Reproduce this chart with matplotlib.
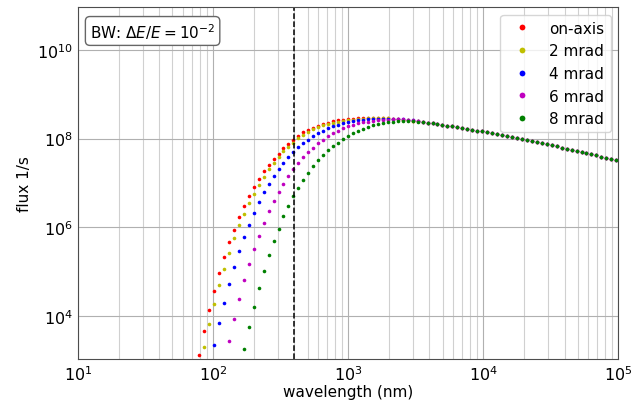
import numpy as np
import matplotlib
matplotlib.use("Agg")
import matplotlib.pyplot as plt
from matplotlib.ticker import FixedLocator, NullLocator, LogLocator

plt.rcParams['font.size'] = 11

# wavelength grid (log10 of nm)
log_wl = [1.896, 1.933, 1.970, 2.007, 2.043, 2.080, 2.117, 2.154, 2.190, 2.227,
          2.264, 2.301, 2.338, 2.374, 2.411, 2.448, 2.485, 2.521, 2.558, 2.595,
          2.632, 2.668, 2.705, 2.742, 2.779, 2.816, 2.852, 2.889, 2.926, 2.963,
          2.999, 3.036, 3.073, 3.110, 3.146, 3.183, 3.220, 3.257, 3.294, 3.330,
          3.367, 3.404, 3.441, 3.477, 3.514, 3.551, 3.588, 3.625, 3.661, 3.698,
          3.735, 3.772, 3.808, 3.845, 3.882, 3.919, 3.955, 3.992, 4.029, 4.066,
          4.103, 4.139, 4.176, 4.213, 4.250, 4.286, 4.323, 4.360, 4.397, 4.433,
          4.470, 4.507, 4.544, 4.581, 4.617, 4.654, 4.691, 4.728, 4.764, 4.801,
          4.838, 4.875, 4.911, 4.948, 4.985]

# log10 flux, long-wavelength part where all angles overlap (grid index 45..84)
tail = [8.376, 8.361, 8.346, 8.330, 8.316, 8.296, 8.278, 8.261, 8.242, 8.224,
        8.204, 8.183, 8.163, 8.143, 8.120, 8.100, 8.077, 8.057, 8.034, 8.011,
        7.989, 7.966, 7.943, 7.919, 7.896, 7.871, 7.848, 7.824, 7.799, 7.774,
        7.749, 7.724, 7.699, 7.674, 7.647, 7.622, 7.595, 7.568, 7.541, 7.514]

# short-wavelength part of each curve (log10 flux), with first visible grid index
on_axis = [3.13, 3.66, 4.14, 4.56, 4.97, 5.33, 5.66, 5.95, 6.23, 6.47,
           6.71, 6.91, 7.10, 7.26, 7.40, 7.54, 7.66, 7.78, 7.88, 7.97,
           8.06, 8.14, 8.19, 8.245, 8.29, 8.33, 8.36, 8.39, 8.41, 8.43,
           8.44, 8.45, 8.46, 8.47, 8.47, 8.47, 8.47, 8.47, 8.46, 8.45,
           8.44, 8.43, 8.41, 8.40, 8.39]
mrad2 = [3.29, 3.81, 4.27, 4.69, 5.07, 5.42, 5.75, 6.05, 6.31,
         6.54, 6.76, 6.96, 7.14, 7.31, 7.46, 7.59, 7.71, 7.81, 7.91,
         8.01, 8.08, 8.15, 8.21, 8.26, 8.30, 8.33, 8.36, 8.38, 8.40,
         8.42, 8.43, 8.44, 8.45, 8.46, 8.46, 8.46, 8.46, 8.46, 8.45,
         8.44, 8.43, 8.42, 8.40, 8.39]
mrad4 = [3.35, 3.84, 4.30, 4.73, 5.10, 5.46, 5.77,
         6.06, 6.32, 6.58, 6.79, 6.97, 7.15, 7.31, 7.45, 7.58, 7.70,
         7.81, 7.90, 7.98, 8.06, 8.13, 8.18, 8.23, 8.275, 8.316, 8.353,
         8.376, 8.398, 8.414, 8.43, 8.437, 8.443, 8.45, 8.45, 8.45, 8.45,
         8.445, 8.44, 8.425, 8.41, 8.395]
mrad6 = [3.44, 3.94, 4.38, 4.80,
         5.17, 5.50, 5.81, 6.10, 6.37, 6.59, 6.80, 6.98, 7.15, 7.31,
         7.45, 7.58, 7.70, 7.80, 7.90, 7.98, 8.05, 8.12, 8.18, 8.233,
         8.278, 8.316, 8.346, 8.369, 8.384, 8.398, 8.414, 8.42, 8.43, 8.435,
         8.44, 8.44, 8.43, 8.41, 8.395]
mrad8 = [3.26,
         3.75, 4.21, 4.64, 5.01, 5.37, 5.70, 5.97, 6.25, 6.49, 6.70,
         6.89, 7.07, 7.23, 7.38, 7.51, 7.63, 7.735, 7.825, 7.91, 7.99,
         8.065, 8.127, 8.181, 8.226, 8.262, 8.30, 8.33, 8.353, 8.369, 8.384,
         8.391, 8.395, 8.395, 8.39, 8.385]

series = [("on-axis", on_axis, 0, 'r'),
          ("2 mrad", mrad2, 1, 'y'),
          ("4 mrad", mrad4, 3, 'b'),
          ("6 mrad", mrad6, 6, 'm'),
          ("8 mrad", mrad8, 9, 'g')]

y_ticks = [1e4, 1e6, 1e8, 1e10]

wl = 10 ** np.array(log_wl)

fig = plt.figure(figsize=(6.4, 4.02), dpi=100)
ax = fig.add_axes([0.122, 0.1045, 0.844, 0.8755])

for label, head, start, color in series:
    y = 10 ** np.array(head + tail)
    ax.plot(wl[start:start + len(y)], y, 'o', color=color, ms=2.6, mew=0, label=label)

ax.axvline(400, color='k', ls='--', lw=1.1)

ax.set_xscale('log')
ax.set_yscale('log')
ax.set_xlim(10, 1e5)
ax.set_ylim(1.07e3, 9.3e10)
ax.yaxis.set_major_locator(FixedLocator(y_ticks))
ax.yaxis.set_minor_locator(NullLocator())
ax.xaxis.set_minor_locator(LogLocator(subs=np.arange(2, 10)))
ax.tick_params(which='both', length=0, labelsize=11.5)
ax.grid(which='major', color='#b0b0b0', lw=0.8)
ax.xaxis.grid(which='minor', color='#d0d0d0', lw=0.8)
for s in ax.spines.values():
    s.set_color('0.3')

ax.set_xlabel('wavelength (nm)', labelpad=1)
ax.set_ylabel('flux 1/s', labelpad=4)

ax.text(0.022, 0.96, r'BW: $\Delta E/E = 10^{-2}$', transform=ax.transAxes,
        ha='left', va='top', fontsize=11,
        bbox=dict(boxstyle='round,pad=0.3', fc='white', ec='0.4'))

ax.legend(loc='upper right', markerscale=1.6, numpoints=1, fontsize=11,
          borderaxespad=0.5)

fig.savefig('out.png', dpi=100)
